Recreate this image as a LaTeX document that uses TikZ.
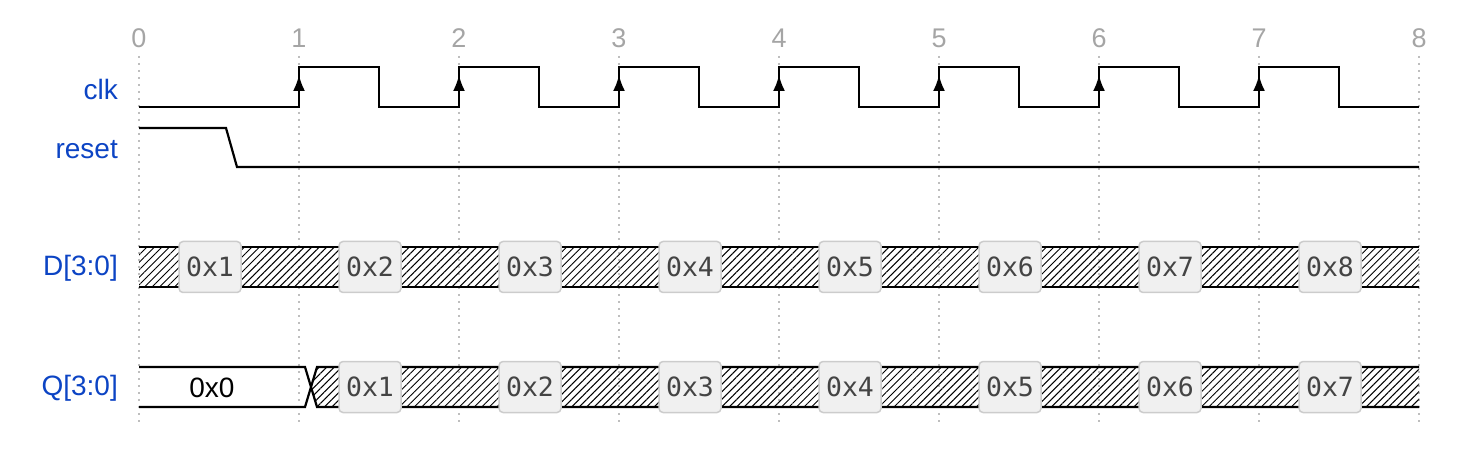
\documentclass[tikz,border=0pt]{standalone}
\usepackage{fontspec}
\setmainfont{Liberation Sans}
\newfontfamily\monofont{DejaVu Sans Mono}
\usetikzlibrary{arrows.meta,patterns.meta}
\definecolor{lblblue}{RGB}{12,68,196}
\definecolor{tickgray}{RGB}{165,165,165}
\definecolor{gridgray}{RGB}{190,190,190}
\definecolor{boxfill}{RGB}{240,240,240}
\definecolor{boxdraw}{RGB}{204,204,204}
\definecolor{boxtext}{RGB}{68,68,68}
\tikzset{
  sig/.style={line width=2.2pt, black, line join=miter},
  gridline/.style={gridgray, line width=1.5pt, dash pattern=on 2pt off 5pt},
  ticklbl/.style={text=tickgray, font=\fontsize{27}{27}\selectfont, inner sep=0pt},
  siglbl/.style={text=lblblue, font=\fontsize{28}{28}\selectfont, anchor=east, inner sep=0pt},
  hatch/.style={pattern={Lines[angle=45,distance=5.3pt,line width=1pt]}},
  valbox/.style={draw=boxdraw, fill=boxfill, line width=1.5pt, rounded corners=4pt,
     minimum width=62pt, minimum height=51pt, inner sep=0pt, text=boxtext,
     font=\monofont\fontsize{26.5}{26.5}\selectfont},
  edgearrow/.style={-{Latex[length=16pt,width=12pt]}, line width=2.2pt},
}
\begin{document}
\begin{tikzpicture}[x=1pt,y=-1pt]
\useasboundingbox (0,0) rectangle (1472,454);
% tick labels and grid
\foreach \i in {0,...,8}{
  \node[ticklbl] (t\i) at ({139+160*\i},38) {\i};
  \coordinate (gt\i) at ({139+160*\i},56);
  \coordinate (gb\i) at ({139+160*\i},422);
  \draw[gridline] (gt\i) -- (gb\i);
}
% signal labels
\node[siglbl] (lclk) at (118,89) {clk};
\node[siglbl] (lrst) at (118,150) {reset};
\node[siglbl] (ld) at (118,268) {D[3:0]};
\node[siglbl] (lq) at (118,388) {Q[3:0]};
% clk
\draw[sig] (139,107)
  \foreach \i in {1,...,7}{ -- ({139+160*\i},107) -- ({139+160*\i},67) -- ({219+160*\i},67) -- ({219+160*\i},107) }
  -- (1419,107);
\foreach \i in {1,...,7}{
  \coordinate (ea\i) at ({139+160*\i},104);
  \coordinate (eb\i) at ({139+160*\i},75);
  \draw[edgearrow] (ea\i) -- (eb\i);
}
% reset
\draw[sig] (139,128) -- (226,128) -- (237,167) -- (1419,167);
% D bus
\fill[hatch] (139,247) rectangle (1419,287);
\draw[sig] (139,247) -- (1419,247);
\draw[sig] (139,287) -- (1419,287);
\foreach \i in {1,...,8}{
  \node[valbox] (d\i) at ({210+160*(\i-1)},267) {0x\i};
}
% Q bus
\fill[hatch] (317,367) -- (1419,367) -- (1419,407) -- (317,407) -- (311,387) -- cycle;
\draw[sig] (139,367) -- (305,367) -- (317,407) -- (1419,407);
\draw[sig] (139,407) -- (305,407) -- (317,367) -- (1419,367);
\node[font=\fontsize{28}{28}\selectfont, inner sep=0pt] (q0) at (212,388) {0x0};
\foreach \i [evaluate=\i as \v using int(\i-1)] in {2,...,8}{
  \node[valbox] (q\i) at ({210+160*(\i-1)},387) {0x\v};
}
\end{tikzpicture}
\end{document}
